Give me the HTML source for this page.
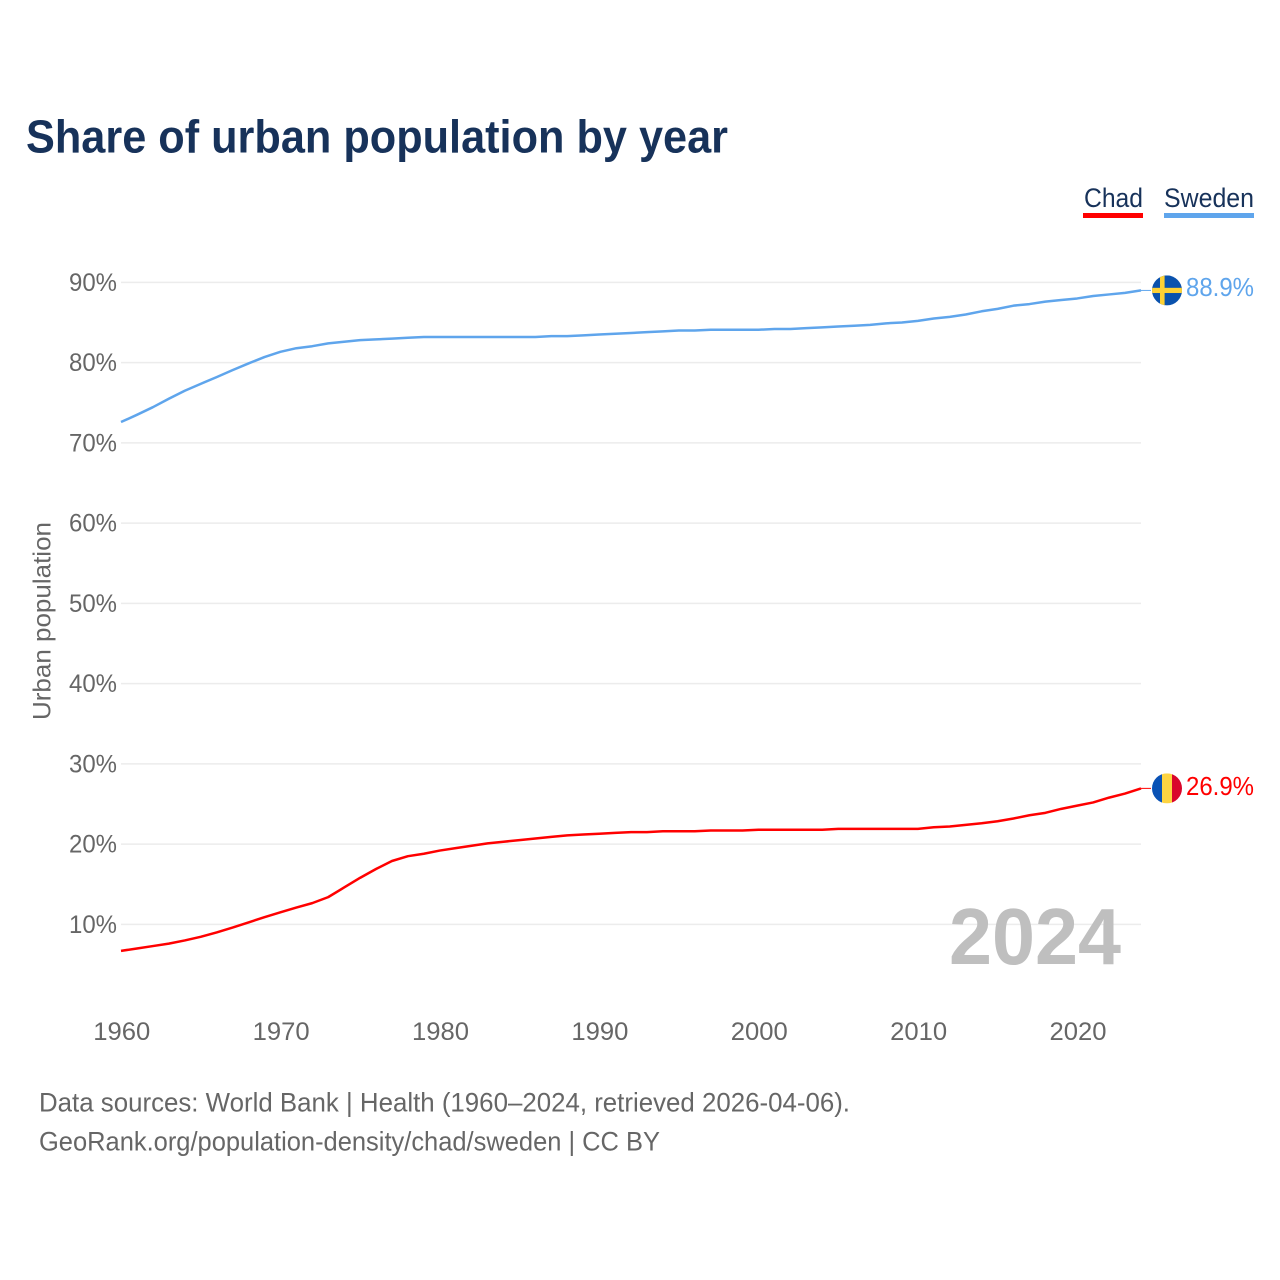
<!DOCTYPE html>
<html lang="en">
<head>
<meta charset="utf-8">
<title>Share of urban population by year</title>
<style>
html,body{margin:0;padding:0;background:#fff;}
svg{display:block;font-family:"Liberation Sans",sans-serif;}
</style>
</head>
<body>
<svg id="chart" xmlns="http://www.w3.org/2000/svg" width="1280" height="1280" viewBox="0 0 1280 1280">
  <rect x="0" y="0" width="1280" height="1280" fill="#fff"/>
  <text x="26" y="152.5" font-size="46" font-weight="700" fill="#17325a" textLength="702" lengthAdjust="spacingAndGlyphs">Share of urban population by year</text>

  <g>
    <g>
      <text x="1084" y="207" font-size="27" fill="#17325a" textLength="59" lengthAdjust="spacingAndGlyphs">Chad</text>
      <rect x="1083" y="213" width="60" height="5" fill="#ff0000"/>
    </g>
    <g>
      <text x="1164" y="207" font-size="27" fill="#17325a" textLength="90" lengthAdjust="spacingAndGlyphs">Sweden</text>
      <rect x="1164" y="213" width="90" height="5" fill="#5fa5ec"/>
    </g>
  </g>

  <g id="grid"></g>
  <g id="yticks"></g>
  <g id="xticks"></g>

  <text transform="translate(50.5,720) rotate(-90)" x="0" y="0" font-size="25" fill="#666" textLength="198" lengthAdjust="spacingAndGlyphs">Urban population</text>

  <text x="949" y="964" font-size="80" font-weight="700" fill="#bfbfbf" textLength="172" lengthAdjust="spacingAndGlyphs">2024</text>

  <g id="series"></g>

  <g id="flag-sweden">
    <clipPath id="clip-sweden"><circle cx="0" cy="0" r="15"/></clipPath>
    <g clip-path="url(#clip-sweden)">
      <rect x="-15" y="-15" width="30" height="30" fill="#0a52ad"/>
      <rect x="-7" y="-15" width="4.6" height="30" fill="#fdd135"/>
      <rect x="-15" y="-2.6" width="30" height="5.2" fill="#fdd135"/>
    </g>
  </g>
  <g id="flag-chad">
    <clipPath id="clip-chad"><circle cx="0" cy="0" r="15"/></clipPath>
    <g clip-path="url(#clip-chad)">
      <rect x="-15" y="-15" width="10" height="30" fill="#0a52b5"/>
      <rect x="-5" y="-15" width="10" height="30" fill="#fdd442"/>
      <rect x="5" y="-15" width="10" height="30" fill="#d9062b"/>
    </g>
  </g>

  <text x="1186" y="296" font-size="25.5" fill="#5fa5ec" textLength="68" lengthAdjust="spacingAndGlyphs">88.9%</text>
  <text x="1186" y="795" font-size="25.5" fill="#ff0000" textLength="68" lengthAdjust="spacingAndGlyphs">26.9%</text>

  <text x="39" y="1111.5" font-size="27" fill="#666" textLength="811" lengthAdjust="spacingAndGlyphs">Data sources: World Bank | Health (1960–2024, retrieved 2026-04-06).</text>
  <text x="39" y="1150.5" font-size="27" fill="#666" textLength="621" lengthAdjust="spacingAndGlyphs">GeoRank.org/population-density/chad/sweden | CC BY</text>
</svg>
<script>
var firstYear = 1960;
var yTickValues = [10, 20, 30, 40, 50, 60, 70, 80, 90];
var yTickLabels = ["10%", "20%", "30%", "40%", "50%", "60%", "70%", "80%", "90%"];
var xTickValues = [1960, 1970, 1980, 1990, 2000, 2010, 2020];
var xTickLabels = ["1960", "1970", "1980", "1990", "2000", "2010", "2020"];
var swedenValues = [
  72.6, 73.5, 74.45, 75.5, 76.5, 77.36, 78.2, 79.07, 79.9, 80.7,
  81.35, 81.8, 82.05, 82.4, 82.6, 82.8, 82.9, 83.0, 83.1, 83.2,
  83.2, 83.2, 83.2, 83.2, 83.2, 83.2, 83.2, 83.3, 83.3, 83.4,
  83.5, 83.6, 83.7, 83.8, 83.9, 84.0, 84.0, 84.1, 84.1, 84.1,
  84.1, 84.2, 84.2, 84.3, 84.4, 84.5, 84.6, 84.7, 84.9, 85.0,
  85.2, 85.5, 85.7, 86.0, 86.4, 86.7, 87.1, 87.3, 87.6, 87.8,
  88.0, 88.3, 88.5, 88.7, 89.0
];
var chadValues = [
  6.7, 7.0, 7.3, 7.6, 8.0, 8.45, 9.0, 9.6, 10.25, 10.9,
  11.5, 12.1, 12.65, 13.4, 14.6, 15.8, 16.9, 17.9, 18.5, 18.8,
  19.2, 19.5, 19.8, 20.1, 20.3, 20.5, 20.7, 20.9, 21.1, 21.2,
  21.3, 21.4, 21.5, 21.5, 21.6, 21.6, 21.6, 21.7, 21.7, 21.7,
  21.8, 21.8, 21.8, 21.8, 21.8, 21.9, 21.9, 21.9, 21.9, 21.9,
  21.9, 22.1, 22.2, 22.4, 22.6, 22.85, 23.2, 23.6, 23.9, 24.4,
  24.8, 25.2, 25.8, 26.3, 26.95
];

var NS = "http://www.w3.org/2000/svg";
function xScale(year) { return 121 + (year - 1960) * 15.9375; }
function yScale(value) { return 924.4 - (value - 10) * 8.025; }

function svgEl(tag, parentId) {
  var el = document.createElementNS(NS, tag);
  document.getElementById(parentId).appendChild(el);
  return el;
}

yTickValues.forEach(function (value, i) {
  var line = svgEl("line", "grid");
  
  
  line.setAttribute("x1", xScale(1960));
  line.setAttribute("x2", xScale(2024));
  line.setAttribute("y1", yScale(value));
  line.setAttribute("y2", yScale(value));
  line.setAttribute("stroke", "#ececec");
  line.setAttribute("stroke-width", "1.5");

  var label = svgEl("text", "yticks");
  
  
  label.setAttribute("x", 69);
  label.setAttribute("y", yScale(value) + 8.5);
  label.setAttribute("font-size", "25");
  label.setAttribute("fill", "#666");
  label.setAttribute("textLength", "48");
  label.setAttribute("lengthAdjust", "spacingAndGlyphs");
  label.textContent = yTickLabels[i];
});

xTickValues.forEach(function (year, i) {
  var label = svgEl("text", "xticks");
  
  
  label.setAttribute("x", xScale(year) - 27.7);
  label.setAttribute("y", 1040);
  label.setAttribute("font-size", "25");
  label.setAttribute("fill", "#666");
  label.setAttribute("textLength", "57");
  label.setAttribute("lengthAdjust", "spacingAndGlyphs");
  label.textContent = xTickLabels[i];
});

function linePath(values) {
  return values.map(function (value, i) {
    return (i ? "L" : "M") + xScale(firstYear + i).toFixed(2) + " " + yScale(value).toFixed(2);
  }).join(" ");
}

var swedenLine = svgEl("path", "series");


swedenLine.setAttribute("d", linePath(swedenValues));
swedenLine.setAttribute("fill", "none");
swedenLine.setAttribute("stroke", "#5fa5ec");
swedenLine.setAttribute("stroke-width", "2.5");
swedenLine.setAttribute("stroke-linejoin", "round");

var chadLine = svgEl("path", "series");


chadLine.setAttribute("d", linePath(chadValues));
chadLine.setAttribute("fill", "none");
chadLine.setAttribute("stroke", "#ff0000");
chadLine.setAttribute("stroke-width", "2.5");
chadLine.setAttribute("stroke-linejoin", "round");

var swedenEndY = yScale(swedenValues[swedenValues.length - 1]);
var chadEndY = yScale(chadValues[chadValues.length - 1]);

var swedenLeader = svgEl("line", "series");


swedenLeader.setAttribute("x1", xScale(2024));
swedenLeader.setAttribute("x2", xScale(2024) + 10);
swedenLeader.setAttribute("y1", swedenEndY);
swedenLeader.setAttribute("y2", swedenEndY);
swedenLeader.setAttribute("stroke", "#5fa5ec");
swedenLeader.setAttribute("stroke-width", "1");

var chadLeader = svgEl("line", "series");


chadLeader.setAttribute("x1", xScale(2024));
chadLeader.setAttribute("x2", xScale(2024) + 10);
chadLeader.setAttribute("y1", chadEndY);
chadLeader.setAttribute("y2", chadEndY);
chadLeader.setAttribute("stroke", "#ff0000");
chadLeader.setAttribute("stroke-width", "1");

document.getElementById("flag-sweden").setAttribute("transform", "translate(1167," + swedenEndY + ")");
document.getElementById("flag-chad").setAttribute("transform", "translate(1167," + chadEndY + ")");
</script>
</body>
</html>
